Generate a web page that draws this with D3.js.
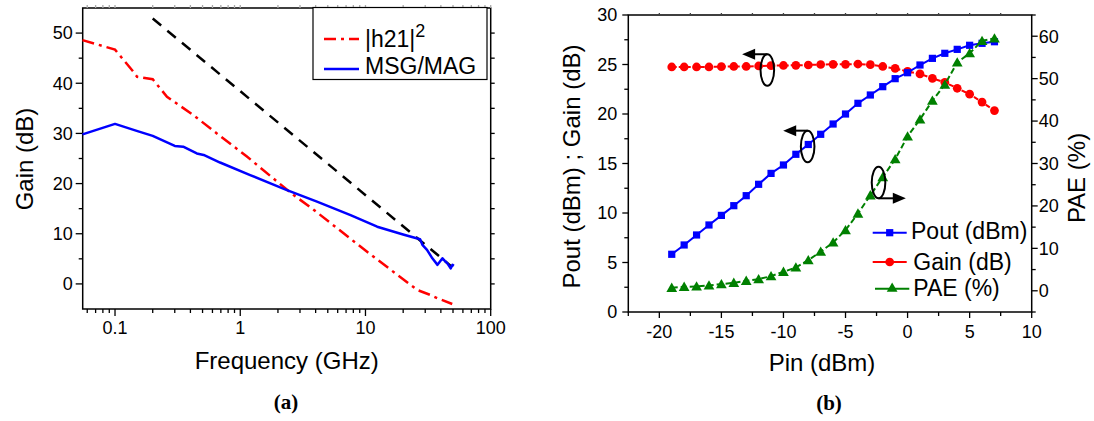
<!DOCTYPE html>
<html>
<head>
<meta charset="utf-8">
<script src="https://cdn.jsdelivr.net/npm/d3@7"></script>
<style>
  html, body { margin: 0; padding: 0; background: #fff; }
  svg { display: block; font-family: "Liberation Sans", Arial, sans-serif; }
</style>
</head>
<body>
<svg id="chart" width="1094" height="421"></svg>
<script>
// ---------- (a) small-signal gain vs frequency ----------
const freqH21 = [0.055, 0.1, 0.14, 0.15, 0.2, 0.26, 0.42, 0.65, 1.13, 1.97, 2.67, 3.63, 10.3, 25.9, 33, 37.5, 49.3];
const gainH21 = [48.6, 46.7, 42.3, 41.3, 40.8, 37.3, 33.7, 30.0, 25.4, 20.4, 17.7, 15.3, 6.4, -1.2, -2.2, -2.85, -4.0];

const freqMSG = [0.055, 0.1, 0.149, 0.2, 0.3, 0.35, 0.45, 0.51, 0.69, 1.2, 1.97, 2.36, 4.1, 7.6, 12.4, 20.3, 27.3, 28.5, 31, 34.2, 37.6, 41.2, 43, 45.1, 47.9, 49.5, 50.8];
const gainMSG = [29.8, 31.9, 30.5, 29.5, 27.5, 27.35, 26.0, 25.7, 24.2, 21.7, 19.5, 18.7, 16.4, 13.7, 11.4, 9.8, 8.9, 7.8, 6.8, 5.1, 3.8, 5.1, 4.6, 4.1, 3.1, 3.8, 3.6];

// -20 dB/decade guide line
const freqGuide = [0.2, 48];
const gainGuide = [52.9, 3.6];

const freqTicks = [0.1, 1, 10, 100];
const freqTickLabels = ["0.1", "1", "10", "100"];
const gainTicks = [0, 10, 20, 30, 40, 50];

// ---------- (b) power sweep ----------
const pin = [-19, -18, -17, -16, -15, -14, -13, -12, -11, -10, -9, -8, -7, -6, -5, -4, -3, -2, -1, 0, 1, 2, 3, 4, 5, 6, 7];
const pout = [5.83, 6.77, 7.78, 8.79, 9.76, 10.74, 11.75, 12.9, 14.0, 14.85, 15.93, 16.92, 17.95, 18.99, 20.0, 21.08, 21.92, 22.76, 23.57, 24.17, 24.95, 25.62, 26.13, 26.53, 26.94, 27.14, 27.3];
const gainB = [24.75, 24.75, 24.75, 24.75, 24.78, 24.8, 24.8, 24.85, 24.88, 24.9, 24.92, 24.95, 25.0, 25.02, 25.02, 25.05, 24.98, 24.8, 24.6, 24.3, 24.05, 23.6, 23.2, 22.6, 22.0, 21.2, 20.35];
const pae = [0.7, 0.94, 1.03, 1.27, 1.57, 1.88, 2.35, 2.75, 3.45, 4.47, 5.5, 7.2, 9.2, 11.4, 14.3, 18.2, 22.5, 26.8, 31.0, 36.4, 40.4, 44.8, 48.6, 53.8, 56.0, 58.9, 59.5];

const pinTicks = [-20, -15, -10, -5, 0, 5, 10];
const leftTicksB = [0, 5, 10, 15, 20, 25, 30];
const paeTicks = [0, 10, 20, 30, 40, 50, 60];

const svg = d3.select("#chart");
const FONT_TICK = 18, FONT_TITLE = 24;

function tickSet(g, scale, values, orient, len, color) {
  values.forEach(v => {
    const p = scale(v);
    let x1, y1, x2, y2;
    if (orient === "bottom") { x1 = x2 = p; y1 = 0; y2 = len; }
    if (orient === "top") { x1 = x2 = p; y1 = 0; y2 = -len; }
    if (orient === "left") { y1 = y2 = p; x1 = 0; x2 = -len; }
    if (orient === "right") { y1 = y2 = p; x1 = 0; x2 = len; }
    g.append("line").attr("x1", x1).attr("y1", y1).attr("x2", x2).attr("y2", y2)
      .attr("stroke", color || "#000").attr("stroke-width", 1.3);
  });
}

// =================== panel (a) ===================
{
  const L = 82.7, R = 490.7, T = 8, B = 309;
  const x = d3.scaleLog().domain([0.0552, 100]).range([L, R]);
  const y = d3.scaleLinear().domain([-5, 55]).range([B, T]);
  const g = svg.append("g");

  // minor log ticks
  const minorF = [];
  [0.01, 0.1, 1, 10].forEach(d => { for (let k = 2; k <= 9; k++) { const v = d * k; if (v >= 0.0552 && v <= 100) minorF.push(v); } });

  // axes frame
  g.append("rect").attr("x", L).attr("y", T).attr("width", R - L).attr("height", B - T)
    .attr("fill", "none").attr("stroke", "#000").attr("stroke-width", 1.5);

  const gb = g.append("g").attr("transform", `translate(0,${B})`);
  tickSet(gb, x, freqTicks, "bottom", 7);
  tickSet(gb, x, minorF, "bottom", 4);
  freqTicks.forEach((v, i) => {
    gb.append("text").attr("x", x(v)).attr("y", 19).attr("dy", "0.35em")
      .attr("text-anchor", "middle").attr("font-size", FONT_TICK).text(freqTickLabels[i]);
  });
  const gt = g.append("g").attr("transform", `translate(0,${T})`);
  tickSet(gt, x, freqTicks.concat(minorF), "top", 3, "#aaa");

  const gl = g.append("g").attr("transform", `translate(${L},0)`);
  tickSet(gl, y, gainTicks, "left", 7);
  tickSet(gl, y, [5, 15, 25, 35, 45], "left", 4);
  gainTicks.forEach(v => {
    gl.append("text").attr("x", -10).attr("y", y(v)).attr("dy", "0.35em")
      .attr("text-anchor", "end").attr("font-size", FONT_TICK).text(v);
  });
  const gr = g.append("g").attr("transform", `translate(${R},0)`);
  tickSet(gr, y, [0, 5, 10, 15, 20, 25, 30, 35, 40, 45, 50], "right", 4);

  // curves
  const line = d3.line().x(d => x(d[0])).y(d => y(d[1]));
  g.append("path").datum(d3.zip(freqGuide, gainGuide)).attr("d", line)
    .attr("fill", "none").attr("stroke", "#000").attr("stroke-width", 2.5).attr("stroke-dasharray", "11,8");
  g.append("path").datum(d3.zip(freqH21, gainH21)).attr("d", line)
    .attr("fill", "none").attr("stroke", "#ff0000").attr("stroke-width", 2.5).attr("stroke-dasharray", "12,5,3,5");
  g.append("path").datum(d3.zip(freqMSG, gainMSG)).attr("d", line)
    .attr("fill", "none").attr("stroke", "#0000ff").attr("stroke-width", 2.5).attr("stroke-linejoin", "round");

  // legend
  const lg = g.append("g");
  lg.append("rect").attr("x", 313).attr("y", 7.5).attr("width", 174).attr("height", 72)
    .attr("fill", "#fff").attr("stroke", "#000").attr("stroke-width", 1.2);
  lg.append("line").attr("x1", 324).attr("x2", 359).attr("y1", 39).attr("y2", 39)
    .attr("stroke", "#ff0000").attr("stroke-width", 2.5).attr("stroke-dasharray", "12,5,3,5");
  const t1 = lg.append("text").attr("x", 365).attr("y", 47).attr("font-size", 23);
  t1.append("tspan").text("|h21|");
  t1.append("tspan").attr("dy", -10).attr("font-size", 18).text("2");
  lg.append("line").attr("x1", 324).attr("x2", 359).attr("y1", 69).attr("y2", 69)
    .attr("stroke", "#0000ff").attr("stroke-width", 2.5);
  lg.append("text").attr("x", 365).attr("y", 74).attr("font-size", 23).text("MSG/MAG");

  // titles
  g.append("text").attr("x", (L + R) / 2 - 0).attr("y", 369).attr("text-anchor", "middle")
    .attr("font-size", FONT_TITLE).text("Frequency (GHz)");
  g.append("text").attr("transform", `translate(33,159) rotate(-90)`).attr("text-anchor", "middle")
    .attr("font-size", FONT_TITLE).text("Gain (dB)");
  g.append("text").attr("x", 286).attr("y", 409).attr("text-anchor", "middle")
    .attr("font-family", "'Liberation Serif', 'Times New Roman', serif").attr("font-weight", "bold")
    .attr("font-size", 21).text("(a)");
}

// =================== panel (b) ===================
{
  const L = 628.3, R = 1031.7, T = 15, B = 312;
  const x = d3.scaleLinear().domain([-22.5, 10]).range([L, R]);
  const yL = d3.scaleLinear().domain([0, 30]).range([B, T]);
  const yR = d3.scaleLinear().domain([-5, 65]).range([B, T]);
  const g = svg.append("g");

  g.append("rect").attr("x", L).attr("y", T).attr("width", R - L).attr("height", B - T)
    .attr("fill", "none").attr("stroke", "#000").attr("stroke-width", 1.5);

  const gb = g.append("g").attr("transform", `translate(0,${B})`);
  tickSet(gb, x, pinTicks, "bottom", 6);
  tickSet(gb, x, [-22.5, -17.5, -12.5, -7.5, -2.5, 2.5, 7.5], "bottom", 4);
  pinTicks.forEach(v => {
    gb.append("text").attr("x", x(v)).attr("y", 20).attr("dy", "0.35em")
      .attr("text-anchor", "middle").attr("font-size", FONT_TICK).text(v);
  });
  const gt = g.append("g").attr("transform", `translate(0,${T})`);
  tickSet(gt, x, [-20, -17.5, -15, -12.5, -10, -7.5, -5, -2.5, 0, 2.5, 5, 7.5], "top", 2, "#444");

  const gl = g.append("g").attr("transform", `translate(${L},0)`);
  tickSet(gl, yL, leftTicksB, "left", 6);
  tickSet(gl, yL, [2.5, 7.5, 12.5, 17.5, 22.5, 27.5], "left", 4);
  leftTicksB.forEach(v => {
    gl.append("text").attr("x", -11).attr("y", yL(v)).attr("dy", "0.35em")
      .attr("text-anchor", "end").attr("font-size", FONT_TICK).text(v);
  });

  const gr = g.append("g").attr("transform", `translate(${R},0)`);
  tickSet(gr, yR, paeTicks, "right", 6);
  tickSet(gr, yR, [-5, 5, 15, 25, 35, 45, 55, 65], "right", 4);
  paeTicks.forEach(v => {
    gr.append("text").attr("x", 7).attr("y", yR(v)).attr("dy", "0.35em")
      .attr("text-anchor", "start").attr("font-size", FONT_TICK).text(v);
  });

  // series
  const lineL = d3.line().x(d => x(d[0])).y(d => yL(d[1]));
  const lineR = d3.line().x(d => x(d[0])).y(d => yR(d[1]));
  const sq = d3.symbol().type(d3.symbolSquare).size(52);
  const ci = d3.symbol().type(d3.symbolCircle).size(60);
  const tr = d3.symbol().type(d3.symbolTriangle).size(50);

  const gainPts = d3.zip(pin, gainB);
  const poutPts = d3.zip(pin, pout);
  const paePts = d3.zip(pin, pae);

  g.append("path").datum(gainPts).attr("d", lineL).attr("fill", "none")
    .attr("stroke", "#ff0000").attr("stroke-width", 2).attr("stroke-dasharray", "5,2");
  g.selectAll(".gm").data(gainPts).join("path").attr("class", "gm")
    .attr("transform", d => `translate(${x(d[0])},${yL(d[1])})`).attr("d", ci).attr("fill", "#ff0000");

  g.append("path").datum(poutPts).attr("d", lineL).attr("fill", "none")
    .attr("stroke", "#0000ff").attr("stroke-width", 2);
  g.selectAll(".pm").data(poutPts).join("path").attr("class", "pm")
    .attr("transform", d => `translate(${x(d[0])},${yL(d[1])})`).attr("d", sq).attr("fill", "#0000ff");

  g.append("path").datum(paePts).attr("d", lineR).attr("fill", "none")
    .attr("stroke", "#008000").attr("stroke-width", 2).attr("stroke-dasharray", "6,3");
  g.selectAll(".am").data(paePts).join("path").attr("class", "am")
    .attr("transform", d => `translate(${x(d[0])},${yR(d[1]) + 1})`).attr("d", tr).attr("fill", "#008000");

  // ellipse + arrow callouts (positions in data units of the left axis)
  const callouts = [
    { cx: -11.3, cy: 24.44, tip: -13.33, side: "top" },
    { cx: -8.05, cy: 16.72, tip: -10.02, side: "top" },
    { cx: -2.34, cy: 13.08, tip: -0.14, side: "bottom" }
  ];
  const rx = 6.8, ry = 15.8;
  callouts.forEach(c => {
    const ex = x(c.cx), ey = yL(c.cy);
    g.append("ellipse").attr("cx", ex).attr("cy", ey).attr("rx", rx).attr("ry", ry)
      .attr("fill", "none").attr("stroke", "#000").attr("stroke-width", 2);
    const ay = c.side === "top" ? ey - ry : ey + ry;
    const tx = x(c.tip);
    const dir = tx < ex ? -1 : 1;
    g.append("line").attr("x1", ex).attr("y1", ay).attr("x2", tx - dir * 10).attr("y2", ay)
      .attr("stroke", "#000").attr("stroke-width", 2);
    g.append("path").attr("d", `M${tx},${ay} L${tx - dir * 13},${ay - 5.5} L${tx - dir * 13},${ay + 5.5} Z`)
      .attr("fill", "#000");
  });

  // legend
  const items = [
    { label: "Pout (dBm)", color: "#0000ff", sym: sq, dash: null, ly: 232.7, ty: 239, x1: 872.7, x2: 906.7, tx: 911 },
    { label: "Gain (dB)", color: "#ff0000", sym: ci, dash: null, ly: 262, ty: 269.5, x1: 872.7, x2: 906.7, tx: 913.3 },
    { label: "PAE (%)", color: "#008000", sym: tr, dash: null, ly: 288.7, ty: 295.5, x1: 875, x2: 909.3, tx: 913.3 }
  ];
  items.forEach(it => {
    g.append("line").attr("x1", it.x1).attr("x2", it.x2).attr("y1", it.ly).attr("y2", it.ly)
      .attr("stroke", it.color).attr("stroke-width", 2);
    g.append("path").attr("transform", `translate(${(it.x1 + it.x2) / 2},${it.ly})`).attr("d", it.sym).attr("fill", it.color);
    g.append("text").attr("x", it.tx).attr("y", it.ty).attr("font-size", 23).text(it.label);
  });

  // titles
  g.append("text").attr("x", 822).attr("y", 371).attr("text-anchor", "middle")
    .attr("font-size", FONT_TITLE).text("Pin (dBm)");
  g.append("text").attr("transform", `translate(580,166.5) rotate(-90)`).attr("text-anchor", "middle")
    .attr("font-size", FONT_TITLE).text("Pout (dBm) ; Gain (dB)");
  g.append("text").attr("transform", `translate(1085,178) rotate(-90)`).attr("text-anchor", "middle")
    .attr("font-size", FONT_TITLE).text("PAE (%)");
  g.append("text").attr("x", 829).attr("y", 410).attr("text-anchor", "middle")
    .attr("font-family", "'Liberation Serif', 'Times New Roman', serif").attr("font-weight", "bold")
    .attr("font-size", 21).text("(b)");
}
</script>
</body>
</html>
